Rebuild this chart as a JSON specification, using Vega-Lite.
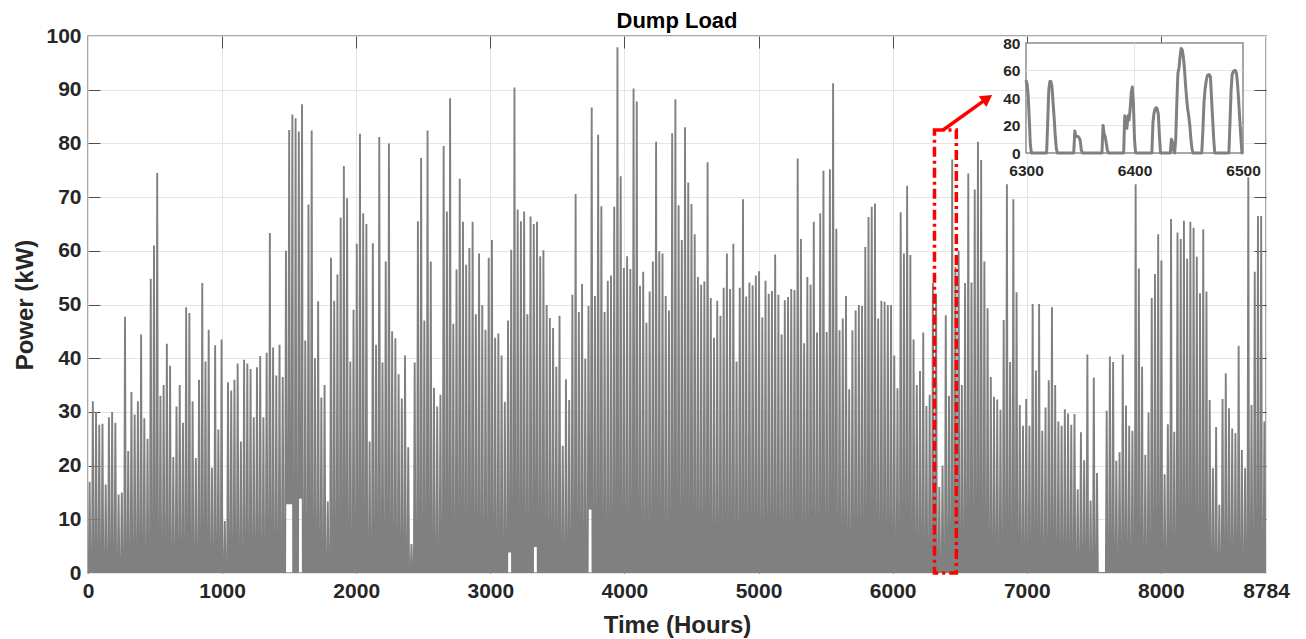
{
"$schema":"https://vega.github.io/schema/vega-lite/v6.json",
"width":1178,"height":537,
"autosize":{"type":"none"},
"padding":{"left":88,"top":36,"right":40,"bottom":66},
"background":"white",
"title":{"text":"Dump Load","font":"Liberation Sans","fontSize":22,"fontWeight":"bold","color":"#000000","offset":-8,"anchor":"middle","frame":"group"},
"config":{
 "view":{"stroke":"#8c8c8c","strokeWidth":1.5},
 "axis":{"labelFont":"Liberation Sans","labelFontWeight":"bold","labelFontSize":21,"labelColor":"#262626","titleFont":"Liberation Sans","titleFontWeight":"bold","titleFontSize":24,"titleColor":"#262626","gridColor":"#e4e4e4","gridWidth":1}
},
"datasets":{
"dump":[
{"h":6,"p":0},{"h":12,"p":17},{"h":18,"p":0},
{"h":30,"p":0},{"h":36,"p":32},{"h":42,"p":0},
{"h":54,"p":0},{"h":60,"p":30},{"h":66,"p":0},
{"h":78,"p":0},{"h":84,"p":27.6},{"h":90,"p":0},
{"h":102,"p":0},{"h":108,"p":27.8},{"h":114,"p":0},
{"h":126,"p":0},{"h":132,"p":16.5},{"h":138,"p":0},
{"h":150,"p":0},{"h":156,"p":29},{"h":162,"p":0},
{"h":174,"p":0},{"h":180,"p":30},{"h":186,"p":0},
{"h":198,"p":0},{"h":204,"p":28},{"h":210,"p":0},
{"h":222,"p":0},{"h":228,"p":14.6},{"h":234,"p":0},
{"h":246,"p":0},{"h":252,"p":15},{"h":258,"p":0},
{"h":270,"p":0},{"h":276,"p":47.7},{"h":282,"p":0},
{"h":294,"p":0},{"h":300,"p":22.7},{"h":306,"p":0},
{"h":318,"p":0},{"h":324,"p":33.7},{"h":330,"p":0},
{"h":342,"p":0},{"h":348,"p":29.5},{"h":354,"p":0},
{"h":366,"p":0},{"h":372,"p":32},{"h":378,"p":0},
{"h":390,"p":0},{"h":396,"p":44.4},{"h":402,"p":0},
{"h":414,"p":0},{"h":420,"p":28.8},{"h":426,"p":0},
{"h":438,"p":0},{"h":444,"p":25},{"h":450,"p":0},
{"h":462,"p":0},{"h":468,"p":54.8},{"h":474,"p":0},
{"h":486,"p":0},{"h":492,"p":61},{"h":498,"p":0},
{"h":510,"p":0},{"h":516,"p":74.5},{"h":522,"p":0},
{"h":534,"p":0},{"h":540,"p":33},{"h":546,"p":0},
{"h":558,"p":0},{"h":564,"p":35},{"h":570,"p":0},
{"h":582,"p":0},{"h":588,"p":42.7},{"h":594,"p":0},
{"h":606,"p":0},{"h":612,"p":38.6},{"h":618,"p":0},
{"h":630,"p":0},{"h":636,"p":21.6},{"h":642,"p":0},
{"h":654,"p":0},{"h":660,"p":31},{"h":666,"p":0},
{"h":678,"p":0},{"h":684,"p":35},{"h":690,"p":0},
{"h":702,"p":0},{"h":708,"p":28},{"h":714,"p":0},
{"h":726,"p":0},{"h":732,"p":49.5},{"h":738,"p":0},
{"h":750,"p":0},{"h":756,"p":48.4},{"h":762,"p":0},
{"h":774,"p":0},{"h":780,"p":32},{"h":786,"p":0},
{"h":798,"p":0},{"h":804,"p":21.4},{"h":810,"p":0},
{"h":822,"p":0},{"h":828,"p":36},{"h":834,"p":0},
{"h":846,"p":0},{"h":852,"p":54},{"h":858,"p":0},
{"h":870,"p":0},{"h":876,"p":39.4},{"h":882,"p":0},
{"h":894,"p":0},{"h":900,"p":45.3},{"h":906,"p":0},
{"h":918,"p":0},{"h":924,"p":19.6},{"h":930,"p":0},
{"h":942,"p":0},{"h":948,"p":42.4},{"h":954,"p":0},
{"h":966,"p":0},{"h":972,"p":26.7},{"h":978,"p":0},
{"h":990,"p":0},{"h":996,"p":43.5},{"h":1002,"p":0},
{"h":1014,"p":0},{"h":1020,"p":9.7},{"h":1026,"p":0},
{"h":1038,"p":0},{"h":1044,"p":35.5},{"h":1050,"p":0},
{"h":1062,"p":0},{"h":1068,"p":34},{"h":1074,"p":0},
{"h":1086,"p":0},{"h":1092,"p":36},{"h":1098,"p":0},
{"h":1110,"p":0},{"h":1116,"p":39},{"h":1122,"p":0},
{"h":1134,"p":0},{"h":1140,"p":24.5},{"h":1146,"p":0},
{"h":1158,"p":0},{"h":1164,"p":39.7},{"h":1170,"p":0},
{"h":1182,"p":0},{"h":1188,"p":39},{"h":1194,"p":0},
{"h":1206,"p":0},{"h":1212,"p":38},{"h":1218,"p":0},
{"h":1230,"p":0},{"h":1236,"p":29},{"h":1242,"p":0},
{"h":1254,"p":0},{"h":1260,"p":38.3},{"h":1266,"p":0},
{"h":1278,"p":0},{"h":1284,"p":40.4},{"h":1290,"p":0},
{"h":1302,"p":0},{"h":1308,"p":29},{"h":1314,"p":0},
{"h":1326,"p":0},{"h":1332,"p":41},{"h":1338,"p":0},
{"h":1350,"p":0},{"h":1356,"p":63.3},{"h":1362,"p":0},
{"h":1374,"p":0},{"h":1380,"p":42},{"h":1386,"p":0},
{"h":1398,"p":0},{"h":1404,"p":36.8},{"h":1410,"p":0},
{"h":1422,"p":0},{"h":1428,"p":42.5},{"h":1434,"p":0},
{"h":1446,"p":0},{"h":1452,"p":36.5},{"h":1458,"p":0},
{"h":1470,"p":0},{"h":1476,"p":60},{"h":1482,"p":13},
{"h":1494,"p":13},{"h":1500,"p":82.5},{"h":1506,"p":13},
{"h":1518,"p":13},{"h":1524,"p":85.4},{"h":1530,"p":0},
{"h":1542,"p":0},{"h":1548,"p":84.7},{"h":1554,"p":0},
{"h":1566,"p":0},{"h":1572,"p":82.2},{"h":1578,"p":14},
{"h":1590,"p":14},{"h":1596,"p":87.3},{"h":1602,"p":0},
{"h":1614,"p":0},{"h":1620,"p":43.3},{"h":1626,"p":0},
{"h":1638,"p":0},{"h":1644,"p":68.6},{"h":1650,"p":0},
{"h":1662,"p":0},{"h":1668,"p":82.4},{"h":1674,"p":0},
{"h":1686,"p":0},{"h":1692,"p":40},{"h":1698,"p":0},
{"h":1710,"p":0},{"h":1716,"p":50.6},{"h":1722,"p":0},
{"h":1734,"p":0},{"h":1740,"p":32.7},{"h":1746,"p":0},
{"h":1758,"p":0},{"h":1764,"p":35},{"h":1770,"p":0},
{"h":1782,"p":0},{"h":1788,"p":13.3},{"h":1794,"p":0},
{"h":1806,"p":0},{"h":1812,"p":58.7},{"h":1818,"p":0},
{"h":1830,"p":0},{"h":1836,"p":50.7},{"h":1842,"p":0},
{"h":1854,"p":0},{"h":1860,"p":55.6},{"h":1866,"p":0},
{"h":1878,"p":0},{"h":1884,"p":66.2},{"h":1890,"p":0},
{"h":1902,"p":0},{"h":1908,"p":75.8},{"h":1914,"p":0},
{"h":1926,"p":0},{"h":1932,"p":69.8},{"h":1938,"p":0},
{"h":1950,"p":0},{"h":1956,"p":39.4},{"h":1962,"p":0},
{"h":1974,"p":0},{"h":1980,"p":49},{"h":1986,"p":0},
{"h":1998,"p":0},{"h":2004,"p":61.3},{"h":2010,"p":0},
{"h":2022,"p":0},{"h":2028,"p":81.8},{"h":2034,"p":0},
{"h":2046,"p":0},{"h":2052,"p":67},{"h":2058,"p":0},
{"h":2070,"p":0},{"h":2076,"p":65},{"h":2082,"p":0},
{"h":2094,"p":0},{"h":2100,"p":24.5},{"h":2106,"p":0},
{"h":2118,"p":0},{"h":2124,"p":61.4},{"h":2130,"p":0},
{"h":2142,"p":0},{"h":2148,"p":42.5},{"h":2154,"p":0},
{"h":2166,"p":0},{"h":2172,"p":81.2},{"h":2178,"p":0},
{"h":2190,"p":0},{"h":2196,"p":39.2},{"h":2202,"p":0},
{"h":2214,"p":0},{"h":2220,"p":58},{"h":2226,"p":0},
{"h":2238,"p":0},{"h":2244,"p":80},{"h":2250,"p":0},
{"h":2262,"p":0},{"h":2268,"p":45},{"h":2274,"p":0},
{"h":2286,"p":0},{"h":2292,"p":43.7},{"h":2298,"p":0},
{"h":2310,"p":0},{"h":2316,"p":37},{"h":2322,"p":0},
{"h":2334,"p":0},{"h":2340,"p":32.5},{"h":2346,"p":0},
{"h":2358,"p":0},{"h":2364,"p":40.5},{"h":2370,"p":0},
{"h":2382,"p":0},{"h":2388,"p":23.4},{"h":2394,"p":0},
{"h":2406,"p":0},{"h":2412,"p":5.4},{"h":2418,"p":0},
{"h":2430,"p":0},{"h":2436,"p":39.2},{"h":2442,"p":0},
{"h":2454,"p":0},{"h":2460,"p":65.5},{"h":2466,"p":0},
{"h":2478,"p":0},{"h":2484,"p":77.3},{"h":2490,"p":0},
{"h":2502,"p":0},{"h":2508,"p":47},{"h":2514,"p":0},
{"h":2526,"p":0},{"h":2532,"p":82.4},{"h":2538,"p":0},
{"h":2550,"p":0},{"h":2556,"p":58},{"h":2562,"p":0},
{"h":2574,"p":0},{"h":2580,"p":34.5},{"h":2586,"p":0},
{"h":2598,"p":0},{"h":2604,"p":31},{"h":2610,"p":0},
{"h":2622,"p":0},{"h":2628,"p":33.2},{"h":2634,"p":0},
{"h":2646,"p":0},{"h":2652,"p":79.5},{"h":2658,"p":0},
{"h":2670,"p":0},{"h":2676,"p":67.3},{"h":2682,"p":0},
{"h":2694,"p":0},{"h":2700,"p":88.4},{"h":2706,"p":0},
{"h":2718,"p":0},{"h":2724,"p":46.4},{"h":2730,"p":0},
{"h":2742,"p":0},{"h":2748,"p":56.5},{"h":2754,"p":0},
{"h":2766,"p":0},{"h":2772,"p":73.4},{"h":2778,"p":0},
{"h":2790,"p":0},{"h":2796,"p":65.4},{"h":2802,"p":0},
{"h":2814,"p":0},{"h":2820,"p":57.4},{"h":2826,"p":0},
{"h":2838,"p":0},{"h":2844,"p":60.5},{"h":2850,"p":0},
{"h":2862,"p":0},{"h":2868,"p":65.4},{"h":2874,"p":0},
{"h":2886,"p":0},{"h":2892,"p":48.2},{"h":2898,"p":0},
{"h":2910,"p":0},{"h":2916,"p":59.5},{"h":2922,"p":0},
{"h":2934,"p":0},{"h":2940,"p":49.9},{"h":2946,"p":0},
{"h":2958,"p":0},{"h":2964,"p":45.3},{"h":2970,"p":0},
{"h":2982,"p":0},{"h":2988,"p":58.7},{"h":2994,"p":0},
{"h":3006,"p":0},{"h":3012,"p":62},{"h":3018,"p":0},
{"h":3030,"p":0},{"h":3036,"p":43.8},{"h":3042,"p":0},
{"h":3054,"p":0},{"h":3060,"p":44.6},{"h":3066,"p":0},
{"h":3078,"p":0},{"h":3084,"p":40.5},{"h":3090,"p":0},
{"h":3102,"p":0},{"h":3108,"p":31.9},{"h":3114,"p":0},
{"h":3126,"p":0},{"h":3132,"p":47},{"h":3138,"p":4},
{"h":3150,"p":4},{"h":3156,"p":60.2},{"h":3162,"p":0},
{"h":3174,"p":0},{"h":3180,"p":90.4},{"h":3186,"p":0},
{"h":3198,"p":0},{"h":3204,"p":67.7},{"h":3210,"p":0},
{"h":3222,"p":0},{"h":3228,"p":65.5},{"h":3234,"p":0},
{"h":3246,"p":0},{"h":3252,"p":67.3},{"h":3258,"p":0},
{"h":3270,"p":0},{"h":3276,"p":48.2},{"h":3282,"p":0},
{"h":3294,"p":0},{"h":3300,"p":66.4},{"h":3306,"p":0},
{"h":3318,"p":0},{"h":3324,"p":65},{"h":3330,"p":5},
{"h":3342,"p":5},{"h":3348,"p":65.4},{"h":3354,"p":0},
{"h":3366,"p":0},{"h":3372,"p":59},{"h":3378,"p":0},
{"h":3390,"p":0},{"h":3396,"p":60.1},{"h":3402,"p":0},
{"h":3414,"p":0},{"h":3420,"p":49.9},{"h":3426,"p":0},
{"h":3438,"p":0},{"h":3444,"p":47.5},{"h":3450,"p":0},
{"h":3462,"p":0},{"h":3468,"p":45.6},{"h":3474,"p":0},
{"h":3486,"p":0},{"h":3492,"p":38.4},{"h":3498,"p":0},
{"h":3510,"p":0},{"h":3516,"p":47.9},{"h":3522,"p":0},
{"h":3534,"p":0},{"h":3540,"p":23.7},{"h":3546,"p":0},
{"h":3558,"p":0},{"h":3564,"p":36.1},{"h":3570,"p":0},
{"h":3582,"p":0},{"h":3588,"p":32.2},{"h":3594,"p":0},
{"h":3606,"p":0},{"h":3612,"p":51.8},{"h":3618,"p":0},
{"h":3630,"p":0},{"h":3636,"p":70.6},{"h":3642,"p":0},
{"h":3654,"p":0},{"h":3660,"p":48.6},{"h":3666,"p":0},
{"h":3678,"p":0},{"h":3684,"p":53.8},{"h":3690,"p":0},
{"h":3702,"p":0},{"h":3708,"p":39.9},{"h":3714,"p":0},
{"h":3726,"p":0},{"h":3732,"p":49.7},{"h":3738,"p":12},
{"h":3750,"p":12},{"h":3756,"p":86.7},{"h":3762,"p":0},
{"h":3774,"p":0},{"h":3780,"p":51.6},{"h":3786,"p":0},
{"h":3798,"p":0},{"h":3804,"p":81.6},{"h":3810,"p":0},
{"h":3822,"p":0},{"h":3828,"p":68.3},{"h":3834,"p":0},
{"h":3846,"p":0},{"h":3852,"p":48.6},{"h":3858,"p":0},
{"h":3870,"p":0},{"h":3876,"p":54.4},{"h":3882,"p":0},
{"h":3894,"p":0},{"h":3900,"p":55.4},{"h":3906,"p":0},
{"h":3918,"p":0},{"h":3924,"p":68.2},{"h":3930,"p":0},
{"h":3942,"p":0},{"h":3948,"p":97.9},{"h":3954,"p":0},
{"h":3966,"p":0},{"h":3972,"p":73.9},{"h":3978,"p":0},
{"h":3990,"p":0},{"h":3996,"p":56.8},{"h":4002,"p":0},
{"h":4014,"p":0},{"h":4020,"p":59},{"h":4026,"p":0},
{"h":4038,"p":0},{"h":4044,"p":56.6},{"h":4050,"p":0},
{"h":4062,"p":0},{"h":4068,"p":90.2},{"h":4074,"p":0},
{"h":4086,"p":0},{"h":4092,"p":87.8},{"h":4098,"p":0},
{"h":4110,"p":0},{"h":4116,"p":53.5},{"h":4122,"p":0},
{"h":4134,"p":0},{"h":4140,"p":56.1},{"h":4146,"p":0},
{"h":4158,"p":0},{"h":4164,"p":46.6},{"h":4170,"p":0},
{"h":4182,"p":0},{"h":4188,"p":52.4},{"h":4194,"p":0},
{"h":4206,"p":0},{"h":4212,"p":58},{"h":4218,"p":0},
{"h":4230,"p":0},{"h":4236,"p":80.3},{"h":4242,"p":0},
{"h":4254,"p":0},{"h":4260,"p":59.9},{"h":4266,"p":0},
{"h":4278,"p":0},{"h":4284,"p":59.5},{"h":4290,"p":0},
{"h":4302,"p":0},{"h":4308,"p":51.6},{"h":4314,"p":0},
{"h":4326,"p":0},{"h":4332,"p":48.9},{"h":4338,"p":0},
{"h":4350,"p":0},{"h":4356,"p":81.9},{"h":4362,"p":0},
{"h":4374,"p":0},{"h":4380,"p":88.2},{"h":4386,"p":0},
{"h":4398,"p":0},{"h":4404,"p":68.5},{"h":4410,"p":0},
{"h":4422,"p":0},{"h":4428,"p":62},{"h":4434,"p":0},
{"h":4446,"p":0},{"h":4452,"p":83},{"h":4458,"p":0},
{"h":4470,"p":0},{"h":4476,"p":72.7},{"h":4482,"p":0},
{"h":4494,"p":0},{"h":4500,"p":68.7},{"h":4506,"p":0},
{"h":4518,"p":0},{"h":4524,"p":63.1},{"h":4530,"p":0},
{"h":4542,"p":0},{"h":4548,"p":55.1},{"h":4554,"p":0},
{"h":4566,"p":0},{"h":4572,"p":53.7},{"h":4578,"p":0},
{"h":4590,"p":0},{"h":4596,"p":54.3},{"h":4602,"p":0},
{"h":4614,"p":0},{"h":4620,"p":76.5},{"h":4626,"p":0},
{"h":4638,"p":0},{"h":4644,"p":51.2},{"h":4650,"p":0},
{"h":4662,"p":0},{"h":4668,"p":43.8},{"h":4674,"p":0},
{"h":4686,"p":0},{"h":4692,"p":50.7},{"h":4698,"p":0},
{"h":4710,"p":0},{"h":4716,"p":47.9},{"h":4722,"p":0},
{"h":4734,"p":0},{"h":4740,"p":53.1},{"h":4746,"p":0},
{"h":4758,"p":0},{"h":4764,"p":59.5},{"h":4770,"p":0},
{"h":4782,"p":0},{"h":4788,"p":52.9},{"h":4794,"p":0},
{"h":4806,"p":0},{"h":4812,"p":61.3},{"h":4818,"p":0},
{"h":4830,"p":0},{"h":4836,"p":39.4},{"h":4842,"p":0},
{"h":4854,"p":0},{"h":4860,"p":53.1},{"h":4866,"p":0},
{"h":4878,"p":0},{"h":4884,"p":69.6},{"h":4890,"p":0},
{"h":4902,"p":0},{"h":4908,"p":51.5},{"h":4914,"p":0},
{"h":4926,"p":0},{"h":4932,"p":54.1},{"h":4938,"p":0},
{"h":4950,"p":0},{"h":4956,"p":53.6},{"h":4962,"p":0},
{"h":4974,"p":0},{"h":4980,"p":55.4},{"h":4986,"p":0},
{"h":4998,"p":0},{"h":5004,"p":56.2},{"h":5010,"p":0},
{"h":5022,"p":0},{"h":5028,"p":47.6},{"h":5034,"p":0},
{"h":5046,"p":0},{"h":5052,"p":54.4},{"h":5058,"p":0},
{"h":5070,"p":0},{"h":5076,"p":52},{"h":5082,"p":0},
{"h":5094,"p":0},{"h":5100,"p":52.5},{"h":5106,"p":0},
{"h":5118,"p":0},{"h":5124,"p":59.3},{"h":5130,"p":0},
{"h":5142,"p":0},{"h":5148,"p":51.8},{"h":5154,"p":0},
{"h":5166,"p":0},{"h":5172,"p":44.4},{"h":5178,"p":0},
{"h":5190,"p":0},{"h":5196,"p":50.8},{"h":5202,"p":0},
{"h":5214,"p":0},{"h":5220,"p":51.4},{"h":5226,"p":0},
{"h":5238,"p":0},{"h":5244,"p":52.9},{"h":5250,"p":0},
{"h":5262,"p":0},{"h":5268,"p":52.7},{"h":5274,"p":0},
{"h":5286,"p":0},{"h":5292,"p":77.2},{"h":5298,"p":0},
{"h":5310,"p":0},{"h":5316,"p":62.2},{"h":5322,"p":0},
{"h":5334,"p":0},{"h":5340,"p":42.8},{"h":5346,"p":0},
{"h":5358,"p":0},{"h":5364,"p":55.1},{"h":5370,"p":0},
{"h":5382,"p":0},{"h":5388,"p":53.7},{"h":5394,"p":0},
{"h":5406,"p":0},{"h":5412,"p":65.4},{"h":5418,"p":0},
{"h":5430,"p":0},{"h":5436,"p":44.8},{"h":5442,"p":0},
{"h":5454,"p":0},{"h":5460,"p":67},{"h":5466,"p":0},
{"h":5478,"p":0},{"h":5484,"p":74.9},{"h":5490,"p":0},
{"h":5502,"p":0},{"h":5508,"p":44.9},{"h":5514,"p":0},
{"h":5526,"p":0},{"h":5532,"p":75.2},{"h":5538,"p":0},
{"h":5550,"p":0},{"h":5556,"p":91.2},{"h":5562,"p":0},
{"h":5574,"p":0},{"h":5580,"p":64.1},{"h":5586,"p":0},
{"h":5598,"p":0},{"h":5604,"p":45.2},{"h":5610,"p":0},
{"h":5622,"p":0},{"h":5628,"p":47.4},{"h":5634,"p":0},
{"h":5646,"p":0},{"h":5652,"p":51.6},{"h":5658,"p":0},
{"h":5670,"p":0},{"h":5676,"p":34.2},{"h":5682,"p":0},
{"h":5694,"p":0},{"h":5700,"p":45.2},{"h":5706,"p":0},
{"h":5718,"p":0},{"h":5724,"p":48.9},{"h":5730,"p":0},
{"h":5742,"p":0},{"h":5748,"p":49.9},{"h":5754,"p":0},
{"h":5766,"p":0},{"h":5772,"p":49.7},{"h":5778,"p":0},
{"h":5790,"p":0},{"h":5796,"p":60.7},{"h":5802,"p":0},
{"h":5814,"p":0},{"h":5820,"p":66.3},{"h":5826,"p":0},
{"h":5838,"p":0},{"h":5844,"p":68.2},{"h":5850,"p":0},
{"h":5862,"p":0},{"h":5868,"p":68.8},{"h":5874,"p":0},
{"h":5886,"p":0},{"h":5892,"p":47.4},{"h":5898,"p":0},
{"h":5910,"p":0},{"h":5916,"p":50.7},{"h":5922,"p":0},
{"h":5934,"p":0},{"h":5940,"p":50.5},{"h":5946,"p":0},
{"h":5958,"p":0},{"h":5964,"p":49.9},{"h":5970,"p":0},
{"h":5982,"p":0},{"h":5988,"p":49.9},{"h":5994,"p":0},
{"h":6006,"p":0},{"h":6012,"p":40.5},{"h":6018,"p":0},
{"h":6030,"p":0},{"h":6036,"p":34.4},{"h":6042,"p":0},
{"h":6054,"p":0},{"h":6060,"p":67.2},{"h":6066,"p":0},
{"h":6078,"p":0},{"h":6084,"p":59.5},{"h":6090,"p":0},
{"h":6102,"p":0},{"h":6108,"p":72.1},{"h":6114,"p":0},
{"h":6126,"p":0},{"h":6132,"p":59.2},{"h":6138,"p":0},
{"h":6150,"p":0},{"h":6156,"p":43.5},{"h":6162,"p":0},
{"h":6174,"p":0},{"h":6180,"p":35},{"h":6186,"p":0},
{"h":6198,"p":0},{"h":6204,"p":37.6},{"h":6210,"p":0},
{"h":6222,"p":0},{"h":6228,"p":44.8},{"h":6234,"p":0},
{"h":6246,"p":0},{"h":6252,"p":31.1},{"h":6258,"p":0},
{"h":6270,"p":0},{"h":6276,"p":33.2},{"h":6282,"p":0},
{"h":6294,"p":0},{"h":6300,"p":54},{"h":6306,"p":0},
{"h":6318,"p":0},{"h":6324,"p":52},{"h":6330,"p":0},
{"h":6342,"p":0},{"h":6348,"p":16},{"h":6354,"p":0},
{"h":6366,"p":0},{"h":6372,"p":20},{"h":6378,"p":0},
{"h":6390,"p":0},{"h":6396,"p":48},{"h":6402,"p":0},
{"h":6414,"p":0},{"h":6420,"p":33},{"h":6426,"p":0},
{"h":6438,"p":0},{"h":6444,"p":77},{"h":6450,"p":0},
{"h":6462,"p":0},{"h":6468,"p":57},{"h":6474,"p":0},
{"h":6486,"p":0},{"h":6492,"p":60},{"h":6498,"p":0},
{"h":6510,"p":0},{"h":6516,"p":35},{"h":6522,"p":0},
{"h":6534,"p":0},{"h":6540,"p":54},{"h":6546,"p":0},
{"h":6558,"p":0},{"h":6564,"p":74.4},{"h":6570,"p":0},
{"h":6582,"p":0},{"h":6588,"p":54.1},{"h":6594,"p":0},
{"h":6606,"p":0},{"h":6612,"p":71.4},{"h":6618,"p":0},
{"h":6630,"p":0},{"h":6636,"p":80.3},{"h":6642,"p":0},
{"h":6654,"p":0},{"h":6660,"p":76.9},{"h":6666,"p":0},
{"h":6678,"p":0},{"h":6684,"p":58},{"h":6690,"p":0},
{"h":6702,"p":0},{"h":6708,"p":49.3},{"h":6714,"p":0},
{"h":6726,"p":0},{"h":6732,"p":36.5},{"h":6738,"p":0},
{"h":6750,"p":0},{"h":6756,"p":32.8},{"h":6762,"p":0},
{"h":6774,"p":0},{"h":6780,"p":32.3},{"h":6786,"p":0},
{"h":6798,"p":0},{"h":6804,"p":30.4},{"h":6810,"p":0},
{"h":6822,"p":0},{"h":6828,"p":47.1},{"h":6834,"p":0},
{"h":6846,"p":0},{"h":6852,"p":72.4},{"h":6858,"p":0},
{"h":6870,"p":0},{"h":6876,"p":39.3},{"h":6882,"p":0},
{"h":6894,"p":0},{"h":6900,"p":69.6},{"h":6906,"p":0},
{"h":6918,"p":0},{"h":6924,"p":52.3},{"h":6930,"p":0},
{"h":6942,"p":0},{"h":6948,"p":31.3},{"h":6954,"p":0},
{"h":6966,"p":0},{"h":6972,"p":27.4},{"h":6978,"p":0},
{"h":6990,"p":0},{"h":6996,"p":32.4},{"h":7002,"p":0},
{"h":7014,"p":0},{"h":7020,"p":27.4},{"h":7026,"p":0},
{"h":7038,"p":0},{"h":7044,"p":50.1},{"h":7050,"p":0},
{"h":7062,"p":0},{"h":7068,"p":37.7},{"h":7074,"p":0},
{"h":7086,"p":0},{"h":7092,"p":50.1},{"h":7098,"p":0},
{"h":7110,"p":0},{"h":7116,"p":26.5},{"h":7122,"p":0},
{"h":7134,"p":0},{"h":7140,"p":30.8},{"h":7146,"p":0},
{"h":7158,"p":0},{"h":7164,"p":35.9},{"h":7170,"p":0},
{"h":7182,"p":0},{"h":7188,"p":49.5},{"h":7194,"p":0},
{"h":7206,"p":0},{"h":7212,"p":35},{"h":7218,"p":0},
{"h":7230,"p":0},{"h":7236,"p":28.2},{"h":7242,"p":0},
{"h":7254,"p":0},{"h":7260,"p":27.4},{"h":7266,"p":0},
{"h":7278,"p":0},{"h":7284,"p":30.5},{"h":7290,"p":0},
{"h":7302,"p":0},{"h":7308,"p":29.7},{"h":7314,"p":0},
{"h":7326,"p":0},{"h":7332,"p":27.6},{"h":7338,"p":0},
{"h":7350,"p":0},{"h":7356,"p":29.6},{"h":7362,"p":0},
{"h":7374,"p":0},{"h":7380,"p":15.6},{"h":7386,"p":0},
{"h":7398,"p":0},{"h":7404,"p":26.2},{"h":7410,"p":0},
{"h":7422,"p":0},{"h":7428,"p":21},{"h":7434,"p":0},
{"h":7446,"p":0},{"h":7452,"p":40.7},{"h":7458,"p":0},
{"h":7470,"p":0},{"h":7476,"p":13.5},{"h":7482,"p":0},
{"h":7494,"p":0},{"h":7500,"p":36.4},{"h":7506,"p":0},
{"h":7518,"p":0},{"h":7524,"p":18.6},{"h":7530,"p":0},
{"h":7590,"p":0},{"h":7596,"p":30.2},{"h":7602,"p":0},
{"h":7614,"p":0},{"h":7620,"p":40.3},{"h":7626,"p":0},
{"h":7638,"p":0},{"h":7644,"p":39.3},{"h":7650,"p":0},
{"h":7662,"p":0},{"h":7668,"p":20.9},{"h":7674,"p":0},
{"h":7686,"p":0},{"h":7692,"p":22.5},{"h":7698,"p":0},
{"h":7710,"p":0},{"h":7716,"p":40.7},{"h":7722,"p":0},
{"h":7734,"p":0},{"h":7740,"p":31.2},{"h":7746,"p":0},
{"h":7758,"p":0},{"h":7764,"p":27.4},{"h":7770,"p":0},
{"h":7782,"p":0},{"h":7788,"p":26.5},{"h":7794,"p":0},
{"h":7806,"p":0},{"h":7812,"p":72.4},{"h":7818,"p":0},
{"h":7830,"p":0},{"h":7836,"p":56.7},{"h":7842,"p":0},
{"h":7854,"p":0},{"h":7860,"p":38.4},{"h":7866,"p":0},
{"h":7878,"p":0},{"h":7884,"p":22},{"h":7890,"p":0},
{"h":7902,"p":0},{"h":7908,"p":29.9},{"h":7914,"p":0},
{"h":7926,"p":0},{"h":7932,"p":51.2},{"h":7938,"p":0},
{"h":7950,"p":0},{"h":7956,"p":55.7},{"h":7962,"p":0},
{"h":7974,"p":0},{"h":7980,"p":63.1},{"h":7986,"p":0},
{"h":7998,"p":0},{"h":8004,"p":58.2},{"h":8010,"p":0},
{"h":8022,"p":0},{"h":8028,"p":18.4},{"h":8034,"p":0},
{"h":8046,"p":0},{"h":8052,"p":27.7},{"h":8058,"p":0},
{"h":8070,"p":0},{"h":8076,"p":65.9},{"h":8082,"p":0},
{"h":8094,"p":0},{"h":8100,"p":26.3},{"h":8106,"p":0},
{"h":8118,"p":0},{"h":8124,"p":63.4},{"h":8130,"p":0},
{"h":8142,"p":0},{"h":8148,"p":62.2},{"h":8154,"p":0},
{"h":8166,"p":0},{"h":8172,"p":65.6},{"h":8178,"p":0},
{"h":8190,"p":0},{"h":8196,"p":58.5},{"h":8202,"p":0},
{"h":8214,"p":0},{"h":8220,"p":65.4},{"h":8226,"p":0},
{"h":8238,"p":0},{"h":8244,"p":64.3},{"h":8250,"p":0},
{"h":8262,"p":0},{"h":8268,"p":58.9},{"h":8274,"p":0},
{"h":8286,"p":0},{"h":8292,"p":52.1},{"h":8298,"p":0},
{"h":8310,"p":0},{"h":8316,"p":64},{"h":8322,"p":0},
{"h":8334,"p":0},{"h":8340,"p":52.4},{"h":8346,"p":0},
{"h":8358,"p":0},{"h":8364,"p":32.2},{"h":8370,"p":0},
{"h":8382,"p":0},{"h":8388,"p":19.5},{"h":8394,"p":0},
{"h":8406,"p":0},{"h":8412,"p":27.2},{"h":8418,"p":0},
{"h":8430,"p":0},{"h":8436,"p":12.7},{"h":8442,"p":0},
{"h":8454,"p":0},{"h":8460,"p":32.4},{"h":8466,"p":0},
{"h":8478,"p":0},{"h":8484,"p":37.2},{"h":8490,"p":0},
{"h":8502,"p":0},{"h":8508,"p":30.7},{"h":8514,"p":0},
{"h":8526,"p":0},{"h":8532,"p":26.9},{"h":8538,"p":0},
{"h":8550,"p":0},{"h":8556,"p":26},{"h":8562,"p":0},
{"h":8574,"p":0},{"h":8580,"p":42.3},{"h":8586,"p":0},
{"h":8598,"p":0},{"h":8604,"p":22.9},{"h":8610,"p":0},
{"h":8622,"p":0},{"h":8628,"p":19.5},{"h":8634,"p":0},
{"h":8646,"p":0},{"h":8652,"p":73.7},{"h":8658,"p":0},
{"h":8670,"p":0},{"h":8676,"p":31.3},{"h":8682,"p":0},
{"h":8694,"p":0},{"h":8700,"p":56.1},{"h":8706,"p":0},
{"h":8718,"p":0},{"h":8724,"p":66.5},{"h":8730,"p":0},
{"h":8742,"p":0},{"h":8748,"p":66.5},{"h":8754,"p":0},
{"h":8766,"p":0},{"h":8772,"p":28.2},{"h":8778,"p":0}
],
"inset":[
{"h":6300,"p":53},{"h":6301,"p":50},{"h":6302,"p":42},{"h":6303,"p":25},{"h":6304,"p":6},{"h":6305,"p":0},
{"h":6319,"p":0},{"h":6320,"p":22},{"h":6321,"p":46},{"h":6322,"p":52},{"h":6323,"p":52},{"h":6324,"p":48},{"h":6325,"p":36},{"h":6326,"p":25},{"h":6327,"p":12},{"h":6328,"p":3},{"h":6329,"p":0},
{"h":6344,"p":0},{"h":6345,"p":16},{"h":6346,"p":12},{"h":6347,"p":12},{"h":6348,"p":12},{"h":6349,"p":11},{"h":6350,"p":9},{"h":6351,"p":2},{"h":6352,"p":0},
{"h":6370,"p":0},{"h":6371,"p":20},{"h":6372,"p":14},{"h":6373,"p":12},{"h":6374,"p":7},{"h":6375,"p":2},{"h":6376,"p":0},
{"h":6390,"p":0},{"h":6391,"p":27},{"h":6392,"p":22},{"h":6393,"p":18},{"h":6394,"p":27},{"h":6395,"p":24},{"h":6396,"p":32},{"h":6397,"p":44},{"h":6398,"p":48},{"h":6399,"p":36},{"h":6400,"p":10},{"h":6401,"p":0},
{"h":6416,"p":0},{"h":6417,"p":22},{"h":6418,"p":29},{"h":6419,"p":32},{"h":6420,"p":33},{"h":6421,"p":32},{"h":6422,"p":28},{"h":6423,"p":12},{"h":6424,"p":0},
{"h":6433,"p":0},{"h":6434,"p":10},{"h":6435,"p":8},{"h":6436,"p":2},{"h":6437,"p":0},{"h":6438,"p":10},{"h":6439,"p":36},{"h":6440,"p":58},{"h":6441,"p":62},{"h":6442,"p":70},{"h":6443,"p":76},{"h":6444,"p":75},{"h":6445,"p":70},{"h":6446,"p":62},{"h":6447,"p":50},{"h":6448,"p":40},{"h":6449,"p":32},{"h":6450,"p":27},{"h":6451,"p":20},{"h":6452,"p":10},{"h":6453,"p":3},{"h":6454,"p":0},
{"h":6462,"p":0},{"h":6463,"p":16},{"h":6464,"p":36},{"h":6465,"p":46},{"h":6466,"p":52},{"h":6467,"p":56},{"h":6468,"p":57},{"h":6469,"p":57},{"h":6470,"p":55},{"h":6471,"p":40},{"h":6472,"p":25},{"h":6473,"p":10},{"h":6474,"p":0},
{"h":6487,"p":0},{"h":6488,"p":22},{"h":6489,"p":45},{"h":6490,"p":57},{"h":6491,"p":59},{"h":6492,"p":60},{"h":6493,"p":60},{"h":6494,"p":58},{"h":6495,"p":50},{"h":6496,"p":38},{"h":6497,"p":25},{"h":6498,"p":12},{"h":6499,"p":0},{"h":6500,"p":0}
],
"insetgrid":[{"v":20},{"v":40},{"v":60}]
},
"layer":[
 {
  "layer":[
   {
    "data":{"name":"dump"},
    "mark":{"type":"line","color":"#808080","strokeWidth":1.9,"clip":true},
    "encoding":{
     "x":{"field":"h","type":"quantitative","scale":{"domain":[0,8784],"nice":false,"zero":false},
       "axis":{"values":[0,1000,2000,3000,4000,5000,6000,7000,8000,8784],"format":"d","title":"Time (Hours)","grid":true,"ticks":false,"domain":false,"labelFlush":false,"labelPadding":7,"titlePadding":12,"labelOverlap":false}},
     "y":{"field":"p","type":"quantitative","scale":{"domain":[0,100],"nice":false,"zero":true},
       "axis":{"values":[0,10,20,30,40,50,60,70,80,90,100],"format":"d","title":"Power (kW)","grid":true,"ticks":false,"domain":false,"labelPadding":7,"titlePadding":8,"labelOverlap":false}}
    }
   },
   {
    "data":{"values":[{}]},
    "mark":{"type":"rect","fillOpacity":0,"stroke":"#ff0000","strokeWidth":3.5,"strokeDash":[10,4,3,4]},
    "encoding":{
     "x":{"datum":6312,"type":"quantitative","axis":{"orient":"bottom","values":[0,1000,2000,3000,4000,5000,6000,7000,8000],"labels":false,"grid":false,"domain":false,"ticks":true,"tickSize":-12,"tickColor":"#4d4d4d","tickWidth":1,"title":null}},
     "x2":{"datum":6475},
     "y":{"datum":0,"type":"quantitative","axis":{"orient":"left","values":[10,20,30,40,50,60,70,80,90],"labels":false,"grid":false,"domain":false,"ticks":true,"tickSize":-12,"tickColor":"#4d4d4d","tickWidth":1,"title":null}},
     "y2":{"datum":82.5}
    }
   },
   {
    "data":{"values":[{}]},
    "mark":{"type":"rule","color":"#ff0000","strokeWidth":3.5},
    "encoding":{
     "x":{"datum":6376,"type":"quantitative","axis":{"orient":"top","values":[1000,2000,3000,4000,5000,6000,7000,8000],"labels":false,"grid":false,"domain":false,"ticks":true,"tickSize":-12,"tickColor":"#4d4d4d","tickWidth":1,"title":null}},
     "x2":{"datum":6700},
     "y":{"datum":82.5,"type":"quantitative","axis":{"orient":"right","values":[10,20,30,40,50,60,70,80,90],"labels":false,"grid":false,"domain":false,"ticks":true,"tickSize":-12,"tickColor":"#4d4d4d","tickWidth":1,"title":null}},
     "y2":{"datum":88.3}
    }
   },
   {
    "data":{"values":[{}]},
    "mark":{"type":"point","shape":"triangle-right","filled":true,"color":"#ff0000","opacity":1,"size":180,"angle":325},
    "encoding":{
     "x":{"datum":6706,"type":"quantitative","axis":null},
     "y":{"datum":88.4,"type":"quantitative","axis":null}
    }
   }
  ],
  "resolve":{"axis":{"x":"independent","y":"independent"}}
 },
 {
  "layer":[
   {
    "data":{"values":[{}]},
    "mark":{"type":"rect","fill":"white","stroke":"#8c8c8c","strokeWidth":1.5},
    "encoding":{
     "x":{"datum":6300,"type":"quantitative","scale":{"domain":[6300,6500],"range":[938,1155],"nice":false,"zero":false},"axis":null},
     "x2":{"datum":6500},
     "y":{"datum":0,"type":"quantitative","scale":{"domain":[0,80],"range":[117,7],"nice":false,"zero":false},"axis":null},
     "y2":{"datum":80}
    }
   },
   {
    "data":{"values":[{}]},
    "mark":{"type":"rule","color":"#e4e4e4","strokeWidth":1},
    "encoding":{
     "x":{"datum":6400,"type":"quantitative","axis":null},
     "y":{"datum":0,"type":"quantitative","axis":null},
     "y2":{"datum":80}
    }
   },
   {
    "data":{"name":"insetgrid"},
    "mark":{"type":"rule","color":"#e4e4e4","strokeWidth":1},
    "encoding":{
     "x":{"datum":6300,"type":"quantitative","axis":null},
     "x2":{"datum":6500},
     "y":{"field":"v","type":"quantitative","axis":null}
    }
   },
   {
    "data":{"name":"inset"},
    "mark":{"type":"line","color":"#808080","strokeWidth":3,"strokeJoin":"round"},
    "encoding":{
     "x":{"field":"h","type":"quantitative","axis":{"orient":"bottom","offset":-420,"values":[6300,6400,6500],"format":"d","labelFlush":false,"ticks":false,"domain":false,"grid":false,"title":null,"labelFontSize":15.5,"labelPadding":10,"labelOverlap":false}},
     "y":{"field":"p","type":"quantitative","axis":{"orient":"left","offset":-938,"values":[0,20,40,60,80],"format":"d","ticks":false,"domain":false,"grid":false,"title":null,"labelFontSize":15.5,"labelPadding":6,"labelOverlap":false}}
    }
   }
  ],
  "resolve":{"axis":{"x":"independent","y":"independent"}}
 }
],
"resolve":{"scale":{"x":"independent","y":"independent"},"axis":{"x":"independent","y":"independent"}}
}
